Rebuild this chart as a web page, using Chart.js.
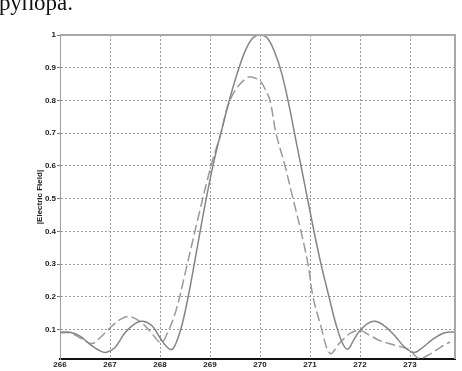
<!DOCTYPE html>
<html>
<head>
<meta charset="utf-8">
<script src="https://cdn.jsdelivr.net/npm/chart.js@4/dist/chart.umd.min.js"></script>
<style>
  html, body { margin: 0; padding: 0; background: #fff; }
  #wrap { position: relative; width: 462px; height: 371px; overflow: hidden; }
  #cap { position: absolute; left: -1px; top: -10px; font-family: 'Liberation Serif', 'DejaVu Serif', serif; font-size: 23px; color: #111; white-space: nowrap; }
  canvas { position: absolute; left: 0; top: 0; }
</style>
</head>
<body>
<div id="wrap">
  <canvas id="c" width="462" height="371"></canvas>
  <div id="cap">рупора.</div>
</div>
<script>
const captionText = "рупора.";
const yAxisTitle = "|Electric Field|";
const xTicks = [266, 267, 268, 269, 270, 271, 272, 273];
const yTicks = [0.1, 0.2, 0.3, 0.4, 0.5, 0.6, 0.7, 0.8, 0.9, 1];

const solidX = [266.0, 266.2, 266.4, 266.6, 266.8, 266.92, 267.1, 267.3, 267.5, 267.66, 267.85, 268.0, 268.15, 268.25, 268.35, 268.45, 268.55, 268.65, 268.75, 268.85, 268.95, 269.05, 269.15, 269.25, 269.35, 269.45, 269.56, 269.7, 269.85, 270.0, 270.15, 270.3, 270.43, 270.56, 270.69, 270.82, 270.95, 271.08, 271.22, 271.38, 271.53, 271.66, 271.76, 271.88, 272.0, 272.15, 272.3, 272.5, 272.7, 272.9, 273.08, 273.25, 273.45, 273.65, 273.75, 273.9];
const solidY = [0.092, 0.092, 0.08, 0.055, 0.035, 0.03, 0.045, 0.09, 0.118, 0.125, 0.11, 0.075, 0.045, 0.04, 0.07, 0.12, 0.19, 0.27, 0.355, 0.44, 0.52, 0.595, 0.66, 0.72, 0.78, 0.835, 0.89, 0.95, 0.99, 1.0, 0.99, 0.945, 0.885, 0.8, 0.7, 0.6, 0.5, 0.4, 0.3, 0.2, 0.11, 0.055, 0.04, 0.07, 0.097, 0.118, 0.125, 0.11, 0.08, 0.045, 0.03, 0.045, 0.07, 0.088, 0.092, 0.092];

const dashX = [266.0, 266.2, 266.4, 266.64, 266.8, 267.0, 267.2, 267.38, 267.6, 267.8, 268.02, 268.15, 268.32, 268.5, 268.76, 269.02, 269.22, 269.35, 269.5, 269.7, 269.82, 270.0, 270.1, 270.2, 270.32, 270.5, 270.66, 270.82, 270.96, 271.06, 271.2, 271.4, 271.6, 271.8, 272.0, 272.2, 272.4, 272.7, 272.98, 273.18, 273.4, 273.6, 273.8];
const dashY = [0.09, 0.09, 0.075, 0.057, 0.075, 0.105, 0.13, 0.14, 0.125, 0.095, 0.06, 0.09, 0.158, 0.27, 0.44, 0.6, 0.7, 0.78, 0.83, 0.865, 0.872, 0.86, 0.835, 0.8, 0.7, 0.6, 0.5, 0.4, 0.3, 0.2, 0.12, 0.027, 0.06, 0.088, 0.097, 0.082, 0.066, 0.052, 0.039, 0.012, 0.025, 0.045, 0.062];

const toPts = (xs, ys) => xs.map((x, i) => ({ x: x, y: ys[i] }));
const tickFont = { family: "'Liberation Sans Narrow', 'Liberation Sans', Arial, sans-serif", size: 8, weight: 'bold' };

const frame = {
  id: 'frame',
  afterDraw(chart) {
    const { ctx, chartArea: a } = chart;
    ctx.save();
    ctx.strokeStyle = '#a8a8a8';
    ctx.lineWidth = 2;
    ctx.beginPath();
    ctx.moveTo(a.left, a.top);
    ctx.lineTo(a.right, a.top);
    ctx.lineTo(a.right, a.bottom);
    ctx.stroke();
    ctx.restore();
  }
};

new Chart(document.getElementById('c'), {
  type: 'line',
  data: {
    datasets: [
      { data: toPts(solidX, solidY), borderColor: '#858585', borderWidth: 1.5, pointRadius: 0, tension: 0.35, fill: false },
      { data: toPts(dashX, dashY), borderColor: '#9a9a9a', borderWidth: 1.5, borderDash: [10, 4], pointRadius: 0, tension: 0.35, fill: false }
    ]
  },
  options: {
    responsive: false,
    animation: false,
    events: [],
    layout: { padding: { left: 0, right: 7, top: 35, bottom: 0 } },
    plugins: { legend: { display: false }, tooltip: { enabled: false } },
    scales: {
      x: {
        type: 'linear', min: 266, max: 273.9,
        afterBuildTicks: s => { s.ticks = xTicks.map(v => ({ value: v })); },
        afterFit: s => { s.height = 12; },
        ticks: { font: tickFont, color: '#222', padding: 1, maxRotation: 0, autoSkip: false },
        grid: { color: '#9a9a9a', lineWidth: 1, drawTicks: false },
        border: { color: '#111', width: 2, dash: [2, 2] }
      },
      y: {
        type: 'linear', min: 0.01, max: 1,
        afterBuildTicks: s => { s.ticks = yTicks.map(v => ({ value: v })); },
        afterFit: s => { s.width = 60; },
        ticks: { font: tickFont, color: '#222', padding: 1, callback: v => String(v) },
        grid: { color: '#9a9a9a', lineWidth: 1, tickLength: 3, tickColor: '#777', tickBorderDash: [] },
        border: { color: '#a0a0a0', width: 1, dash: [2, 2] },
        title: { display: true, text: yAxisTitle, font: tickFont, color: '#222', padding: { top: 35, bottom: 0 } }
      }
    }
  },
  plugins: [frame]
});
</script>
</body>
</html>
